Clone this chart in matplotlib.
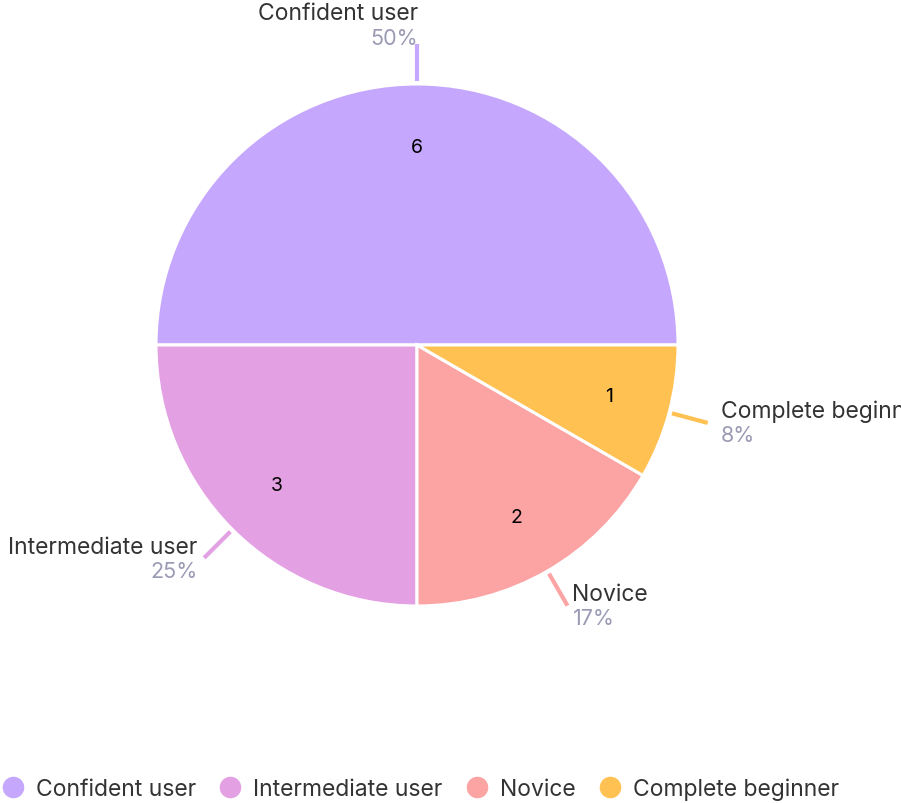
import numpy as np
import matplotlib.pyplot as plt
from matplotlib.lines import Line2D

plt.rcParams['font.family'] = ['Inter', 'DejaVu Sans']

# data
categories = ['Confident user', 'Intermediate user', 'Novice', 'Complete beginner']
counts = [6, 3, 2, 1]
colors = ['#C5A8FE', '#E3A0E3', '#FCA3A3', '#FFC152']

W, H = 901, 804
fig = plt.figure(figsize=(W / 100, H / 100), dpi=100)
ax = fig.add_axes([0, 0, 1, 1])

cx, cy, r = 417, H - 346, 261
total = sum(counts)

wedges, texts, autotexts = ax.pie(
    counts, colors=colors, startangle=0, counterclock=True,
    center=(cx, cy), radius=r, frame=True,
    autopct=lambda p: '%d' % round(p * total / 100), pctdistance=0.76,
    wedgeprops=dict(edgecolor='white', linewidth=2.2),
    textprops=dict(fontsize=14, color='black'))
ax.set_xlim(0, W)
ax.set_ylim(0, H)
ax.set_aspect('equal')
ax.axis('off')

name_kw = dict(fontsize=16.5, color='#333333', va='center')
pct_kw = dict(fontsize=15.5, color='#9A9AB5', va='center')

# outer labels with leader lines
for w, name, n, col in zip(wedges, categories, counts, colors):
    ang = np.deg2rad((w.theta1 + w.theta2) / 2)
    ca, sa = np.cos(ang), np.sin(ang)
    x0, y0 = cx + (r + 3) * ca, cy + (r + 3) * sa
    x1, y1 = cx + (r + 40) * ca, cy + (r + 40) * sa
    ax.plot([x0, x1], [y0, y1], color=col, lw=3, solid_capstyle='butt')
    pct = '%d%%' % round(100 * n / total)
    if sa > 0.9:
        # label sits above the line end
        ax.text(x1 + 1, y1 + 6, pct, ha='right', **pct_kw)
        ax.text(x1 + 1, y1 + 31, name, ha='right', **name_kw)
    elif ca > 0:
        gap = 18 * ca - 4
        ax.text(x1 + gap, y1 + 12, name, ha='left', **name_kw)
        ax.text(x1 + gap, y1 - 12, pct, ha='left', **pct_kw)
    else:
        ax.text(x1 - 7, y1 + 11, name, ha='right', **name_kw)
        ax.text(x1 - 7, y1 - 13, pct, ha='right', **pct_kw)

handles = [Line2D([], [], marker='o', linestyle='none', markersize=14.5,
                  markerfacecolor=c, markeredgecolor=c) for c in colors]
fig.legend(handles, categories, loc='center', ncol=4, frameon=False,
           bbox_to_anchor=(420 / W, 1 - 790 / H), fontsize=16.5,
           handlelength=1.0, handletextpad=0.5, columnspacing=1.0,
           labelcolor='#333333')

fig.savefig('out.png', dpi=100)
